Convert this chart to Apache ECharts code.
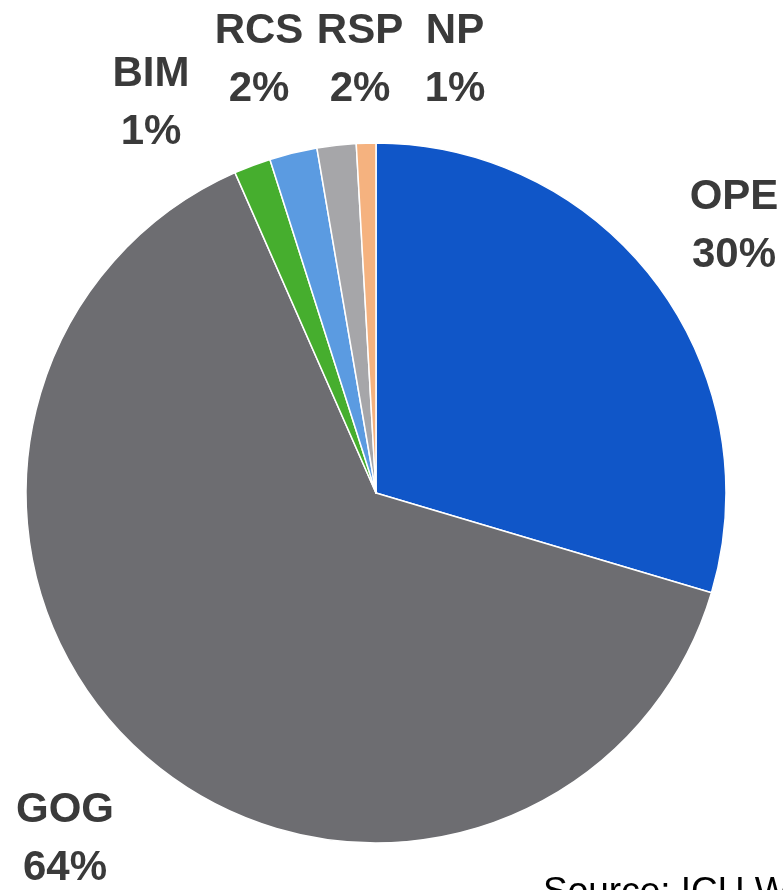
<!DOCTYPE html>
<html>
<head>
<meta charset="utf-8">
<script src="https://cdn.jsdelivr.net/npm/echarts@6/dist/echarts.min.js"></script>
<style>
html,body{margin:0;padding:0;background:#fff;}
#chart{width:783px;height:890px;}
</style>
</head>
<body>
<div id="chart"></div>
<script>
// Data (share of total, clockwise from 12 o'clock)
const categories = ['OPE', 'GOG', 'BIM', 'RCS', 'RSP', 'NP'];
const shares = [29.6, 63.8, 1.7, 2.2, 1.8, 0.9];
const shareLabels = ['30%', '64%', '1%', '2%', '2%', '1%'];
const colors = ['#1056c8', '#6d6d71', '#46ae2e', '#5b9be1', '#a6a6a9', '#f5b27f'];
const sourceText = 'Source: ICU W';

// Label anchor positions (style only)
const labelPos = [[734, 226], [65, 839], [151, 103], [259, 60], [360, 60], [455, 60]];

const labelFont = {
  fontFamily: 'Liberation Sans, Arial, sans-serif',
  fontWeight: 'bold',
  fontSize: 42,
  lineHeight: 58,
  fill: '#3a3a3a',
  align: 'center',
  verticalAlign: 'middle'
};

const chart = echarts.init(document.getElementById('chart'), null, {renderer: 'canvas'});
chart.setOption({
  animation: false,
  backgroundColor: '#ffffff',
  series: [{
    type: 'pie',
    center: [376, 493],
    radius: [0, 350],
    startAngle: 90,
    clockwise: true,
    silent: true,
    data: categories.map((c, i) => ({
      name: c,
      value: shares[i],
      itemStyle: {color: colors[i]}
    })),
    itemStyle: {borderColor: '#ffffff', borderWidth: 1.5},
    label: {show: false},
    labelLine: {show: false}
  }],
  graphic: categories.map((c, i) => ({
    type: 'text',
    x: labelPos[i][0],
    y: labelPos[i][1],
    silent: true,
    style: Object.assign({text: c + '\n' + shareLabels[i]}, labelFont)
  })).concat([{
    type: 'text',
    x: 543,
    y: 874,
    silent: true,
    style: {
      text: sourceText,
      fontFamily: 'Liberation Sans, Arial, sans-serif',
      fontSize: 37,
      fill: '#000000'
    }
  }])
});
</script>
</body>
</html>
